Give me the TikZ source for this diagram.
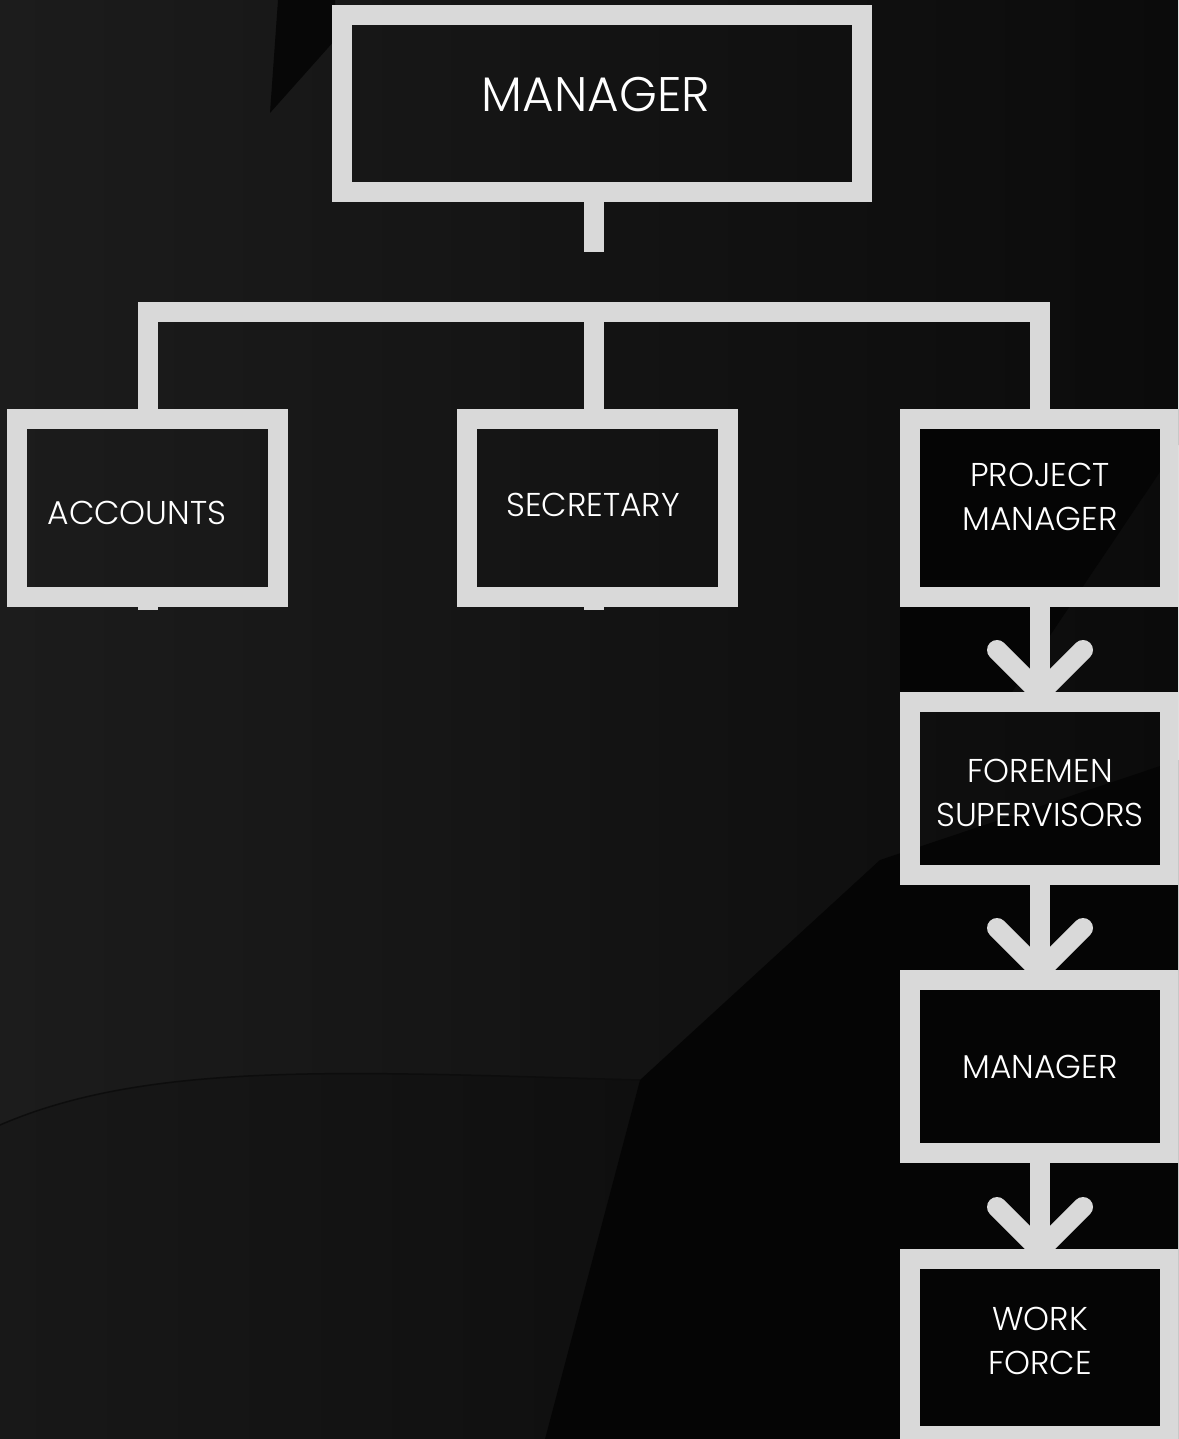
\documentclass[tikz,border=0pt]{standalone}
\usepackage{fontspec}
\setmainfont{Poppins}[UprightFont=* Light]
\usetikzlibrary{calc}
\definecolor{boxgray}{HTML}{D9D9D9}
\definecolor{bgL}{HTML}{1C1C1C}
\definecolor{bgR}{HTML}{0B0B0B}
\definecolor{bgA}{HTML}{181818}
\definecolor{bgB}{HTML}{0F0F0F}
\definecolor{bgD}{HTML}{050505}
\definecolor{bgW}{HTML}{070707}
\definecolor{bgC}{HTML}{0D0D0D}
\begin{document}
\begin{tikzpicture}[x=1pt,y=-1pt,
  box/.style={draw=boxgray,line width=20pt,rectangle,inner sep=0pt},
  conn/.style={draw=boxgray,line width=20pt,line join=miter},
  chev/.style={draw=boxgray,line width=20pt,line cap=round,line join=miter},
  lbl/.style={text=white,align=center,inner sep=0pt,font=\fontsize{33}{44}\selectfont},
  big/.style={text=white,inner sep=0pt,font=\fontsize{48.5}{56}\selectfont}]
\useasboundingbox (0,0) rectangle (1178,1439);
\clip (0,0) rectangle (1178,1439);
% background
\shade[left color=bgL,right color=bgR] (0,0) rectangle (1178,1439);
\fill[bgW] (278,0) -- (335,0) -- (335,40) -- (270,113) -- cycle;
\fill[bgD] (900,409) -- (1178,409) -- (1178,445) -- (1000,710) -- (900,710) -- cycle;
\shade[left color=bgA,right color=bgB] (0,1125) .. controls (150,1060) and (350,1072) .. (640,1080) -- (545,1439) -- (0,1439) -- cycle;
\draw[bgC,line width=1.5pt] (0,1125) .. controls (150,1060) and (350,1072) .. (640,1080);
\fill[bgD] (545,1439) -- (640,1080) -- (880,860) -- (1178,760) -- (1178,1439) -- cycle;
% boxes
\node[box,minimum width=520pt,minimum height=177pt] (top) at (602,103.5) {};
\node[box,minimum width=261pt,minimum height=178pt] (acc) at (147.5,508) {};
\node[box,minimum width=261pt,minimum height=178pt] (sec) at (597.5,508) {};
\node[box,minimum width=260pt,minimum height=178pt] (pm) at (1040,508) {};
\node[box,minimum width=260pt,minimum height=173pt] (fm) at (1040,788.5) {};
\node[box,minimum width=260pt,minimum height=173pt] (mg) at (1040,1066.5) {};
\node[box,minimum width=260pt,minimum height=177pt] (wf) at (1040,1347.5) {};
% connectors
\coordinate (stem) at (594,252);
\coordinate (bus) at (594,312);
\draw[conn] (top.south -| stem) -- (stem);
\draw[conn] (acc.north) -- (acc.north |- bus) -- (pm.north |- bus) -- (pm.north);
\draw[conn] (bus) -- (bus |- sec.north);
\draw[conn] (acc.south) -- ++(0,3);
\draw[conn] (sec.south -| bus) -- ++(0,3);
\draw[conn] (pm.south) -- (fm.north);
\draw[chev] ($(fm.north)+(-43,-42)$) -- ($(fm.north)+(0,1)$) -- ($(fm.north)+(43,-42)$);
\draw[conn] (fm.south) -- (mg.north);
\draw[chev] ($(mg.north)+(-43,-42)$) -- ($(mg.north)+(0,1)$) -- ($(mg.north)+(43,-42)$);
\draw[conn] (mg.south) -- (wf.north);
\draw[chev] ($(wf.north)+(-43,-42)$) -- ($(wf.north)+(0,1)$) -- ($(wf.north)+(43,-42)$);
% labels
\node[big] (ttop) at (596,95) {MANAGER};
\node[lbl] (tacc) at (137,513) {ACCOUNTS};
\node[lbl] (tsec) at (593,505) {SECRETARY};
\node[lbl] (tpm) at (1040,497) {PROJECT\\MANAGER};
\node[lbl] (tfm) at (1040,793) {FOREMEN\\SUPERVISORS};
\node[lbl] (tmg) at (1040,1067) {MANAGER};
\node[lbl] (twf) at (1040,1341) {WORK\\FORCE};
\end{tikzpicture}
\end{document}
